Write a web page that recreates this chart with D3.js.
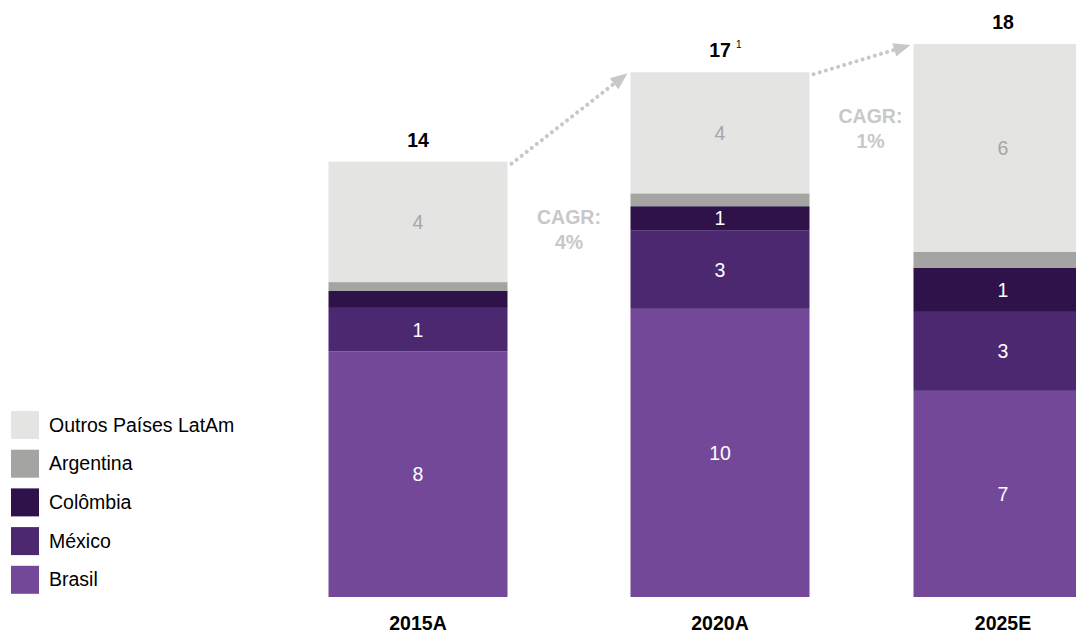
<!DOCTYPE html>
<html>
<head>
<meta charset="utf-8">
<script src="https://cdn.jsdelivr.net/npm/d3@7/dist/d3.min.js"></script>
<style>
  html, body { margin: 0; padding: 0; background: #ffffff; overflow: hidden; }
  svg { display: block; font-family: "Liberation Sans", Arial, sans-serif; }
</style>
</head>
<body>
<svg id="chart" width="1076" height="633"></svg>
<script>
// ---- Data ----
const categories = ["2015A", "2020A", "2025E"];
const seriesNames = ["Brasil", "México", "Colômbia", "Argentina", "Outros Países LatAm"];
const brasil    = [7.99, 9.38, 6.71];
const mexico    = [1.42, 2.56, 2.57];
const colombia  = [0.55, 0.78, 1.43];
const argentina = [0.29, 0.42, 0.52];
const outros    = [3.92, 3.94, 6.77];
const brasilLabels    = ["8", "10", "7"];
const mexicoLabels    = ["1", "3", "3"];
const colombiaLabels  = ["", "1", "1"];
const argentinaLabels = ["", "", ""];
const outrosLabels    = ["4", "4", "6"];
const totalLabels     = ["14", "17", "18"];
const totalFootnotes  = ["", "1", ""];
const cagrLabels      = ["4%", "1%"];
const seriesColors = ["#744898", "#4b2870", "#2f1249", "#a4a4a3", "#e4e4e3"];
const labelColors  = ["#ffffff", "#ffffff", "#ffffff", "#ffffff", "#a6a6a6"];

// ---- Build table ----
const seriesValues = [brasil, mexico, colombia, argentina, outros];
const seriesLabels = [brasilLabels, mexicoLabels, colombiaLabels, argentinaLabels, outrosLabels];
const table = categories.map((c, i) => {
  const row = { category: c };
  seriesNames.forEach((s, j) => { row[s] = seriesValues[j][i]; });
  return row;
});
const stacked = d3.stack().keys(seriesNames)(table);

// ---- Scales ----
const svg = d3.select("#chart");
const barWidth = 179;
const fs = 19.5;
const x = d3.scaleOrdinal().domain(categories).range([418, 720, 1003]);
const y = d3.scaleLinear().domain([0, 18]).range([597, 44]);
const color = d3.scaleOrdinal().domain(seriesNames).range(seriesColors);

// ---- Bars ----
const layers = svg.append("g").selectAll("g")
  .data(stacked).join("g")
  .attr("fill", d => color(d.key));

layers.selectAll("rect")
  .data(d => d).join("rect")
  .attr("x", d => x(d.data.category) - barWidth / 2)
  .attr("y", d => y(d[1]))
  .attr("width", barWidth)
  .attr("height", d => y(d[0]) - y(d[1]));

// ---- Segment labels ----
stacked.forEach((layer, j) => {
  svg.append("g").selectAll("text")
    .data(layer).join("text")
    .attr("x", d => x(d.data.category))
    .attr("y", d => (y(d[0]) + y(d[1])) / 2 + 7)
    .attr("text-anchor", "middle")
    .attr("font-size", fs)
    .attr("fill", labelColors[j])
    .text((d, i) => seriesLabels[j][i]);
});

// ---- Totals ----
const totals = table.map(r => d3.sum(seriesNames, s => r[s]));
const totalG = svg.append("g");
totalG.selectAll("text.total")
  .data(categories).join("text")
  .attr("class", "total")
  .attr("x", c => x(c))
  .attr("y", (c, i) => y(totals[i]) - 15)
  .attr("text-anchor", "middle")
  .attr("font-size", fs)
  .attr("font-weight", "bold")
  .attr("fill", "#000000")
  .text((c, i) => totalLabels[i]);
totalG.selectAll("text.foot")
  .data(categories).join("text")
  .attr("class", "foot")
  .attr("x", c => x(c) + 16)
  .attr("y", (c, i) => y(totals[i]) - 24)
  .attr("font-size", 10)
  .attr("fill", "#000000")
  .text((c, i) => totalFootnotes[i]);

// ---- Category labels ----
svg.append("g").selectAll("text")
  .data(categories).join("text")
  .attr("x", c => x(c))
  .attr("y", 630)
  .attr("text-anchor", "middle")
  .attr("font-size", fs)
  .attr("font-weight", "bold")
  .attr("fill", "#000000")
  .text(c => c);

// ---- CAGR arrows ----
const arrowColor = "#c8c8c8";
const arrowG = svg.append("g");
for (let i = 0; i < categories.length - 1; i++) {
  const x0 = x(categories[i]) + barWidth / 2 + 4;
  const y0 = y(totals[i]) + 2;
  const x1 = x(categories[i + 1]) - barWidth / 2 - 3;
  const y1 = y(totals[i + 1]) + 1;
  const ang = Math.atan2(y1 - y0, x1 - x0);
  const headLen = 17, headHalf = 7;
  const bx = x1 - headLen * Math.cos(ang), by = y1 - headLen * Math.sin(ang);
  arrowG.append("line")
    .attr("x1", x0).attr("y1", y0)
    .attr("x2", bx).attr("y2", by)
    .attr("stroke", arrowColor)
    .attr("stroke-width", 4)
    .attr("stroke-linecap", "round")
    .attr("stroke-dasharray", "0.1 6.3");
  const px = -Math.sin(ang), py = Math.cos(ang);
  arrowG.append("path")
    .attr("d", `M${x1},${y1} L${bx + px * headHalf},${by + py * headHalf} L${bx - px * headHalf},${by - py * headHalf} Z`)
    .attr("fill", arrowColor);
}

// ---- CAGR text ----
const cagrPos = [
  { cx: (x(categories[0]) + x(categories[1])) / 2, base: 224 },
  { cx: (x(categories[1]) + x(categories[2])) / 2 + 9, base: 123 }
];
cagrLabels.forEach((lab, i) => {
  const t = svg.append("text")
    .attr("text-anchor", "middle")
    .attr("font-size", fs)
    .attr("font-weight", "bold")
    .attr("fill", arrowColor);
  t.append("tspan").attr("x", cagrPos[i].cx).attr("y", cagrPos[i].base).text("CAGR:");
  t.append("tspan").attr("x", cagrPos[i].cx).attr("y", cagrPos[i].base + 24.5).text(lab);
});

// ---- Legend ----
const legendNames = seriesNames.slice().reverse();
const legend = svg.append("g").selectAll("g")
  .data(legendNames).join("g")
  .attr("transform", (d, i) => `translate(11, ${411 + i * 38.7})`);
legend.append("rect")
  .attr("width", 28).attr("height", 28)
  .attr("fill", d => color(d));
legend.append("text")
  .attr("x", 38)
  .attr("y", 20.5)
  .attr("font-size", fs)
  .attr("fill", "#000000")
  .text(d => d);
</script>
</body>
</html>
